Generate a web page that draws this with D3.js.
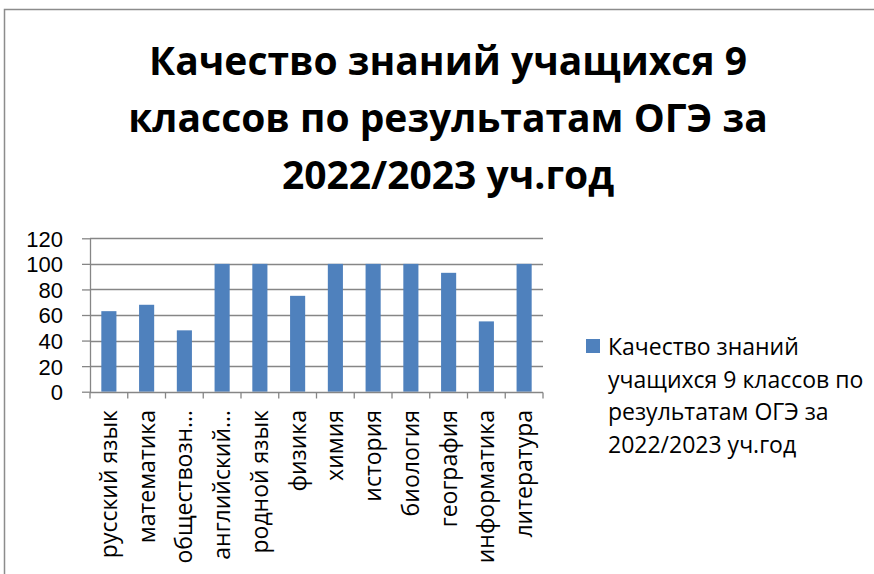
<!DOCTYPE html>
<html>
<head>
<meta charset="utf-8">
<script src="https://cdn.jsdelivr.net/npm/d3@7"></script>
<style>
  html, body { margin: 0; padding: 0; background: #fff; }
  svg { display: block; }
  text { font-family: "Open Sans", "Noto Sans", "DejaVu Sans", sans-serif; fill: #000; }
</style>
</head>
<body>
<svg id="chart" width="874" height="574"></svg>
<script>
// ---- data ----
const categories = ["русский язык", "математика", "обществозн…", "английский…", "родной язык",
                    "физика", "химия", "история", "биология", "география", "информатика", "литература"];
const values = [63, 68, 48, 100, 100, 75, 100, 100, 100, 93, 55, 100];
const yTicks = [0, 20, 40, 60, 80, 100, 120];
const titleLines = ["Качество знаний учащихся 9", "классов по результатам ОГЭ за", "2022/2023 уч.год"];
const seriesName = "Качество знаний учащихся 9 классов по результатам ОГЭ за 2022/2023 уч.год";
const legendLines = ["Качество знаний", "учащихся 9 классов по", "результатам ОГЭ за", "2022/2023 уч.год"];

// ---- layout ----
const W = 874, H = 574;
const plot = { left: 90, right: 543, top: 238.3, bottom: 391.7 };
const barColor = "#4F81BD";
const gridColor = "#868686";

const svg = d3.select("#chart");

// chart border (extends past right/bottom edges as in the reference)
svg.append("rect")
  .attr("x", 4.5).attr("y", 9.5)
  .attr("width", W + 20).attr("height", H + 20)
  .attr("fill", "none").attr("stroke", "#8c8c8c").attr("stroke-width", 1.5);

// title
svg.append("g").selectAll("text").data(titleLines).join("text")
  .attr("x", 448)
  .attr("y", (d, i) => 75 + i * 57)
  .attr("text-anchor", "middle")
  .attr("font-weight", "bold")
  .attr("font-size", 39)
  .text(d => d);

const x = d3.scaleBand().domain(categories).range([plot.left, plot.right]).paddingInner(0).paddingOuter(0);
const y = d3.scaleLinear().domain([0, 120]).range([plot.bottom, plot.top]);

// gridlines
svg.append("g").selectAll("line").data(yTicks.filter(t => t > 0)).join("line")
  .attr("x1", plot.left).attr("x2", plot.right)
  .attr("y1", d => Math.round(y(d)) + 0.5).attr("y2", d => Math.round(y(d)) + 0.5)
  .attr("stroke", gridColor).attr("stroke-width", 1.3);

// y axis
const yAxis = d3.axisLeft(y).tickValues(yTicks).tickSize(8).tickPadding(19).tickSizeOuter(0);
const gy = svg.append("g").attr("transform", `translate(${plot.left},0)`).call(yAxis);
gy.select(".domain").attr("stroke", gridColor).attr("stroke-width", 1.3);
gy.selectAll(".tick line").attr("stroke", gridColor).attr("stroke-width", 1.3);
gy.selectAll(".tick text").attr("font-size", 22).attr("fill", "#000")
  .style("font-family", "'Liberation Sans', Arial, sans-serif").attr("dy", "0.36em");

// bars
const barW = x.bandwidth() / 2.5;
svg.append("g").selectAll("rect").data(values).join("rect")
  .attr("x", (d, i) => x(categories[i]) + (x.bandwidth() - barW) / 2)
  .attr("y", d => y(d))
  .attr("width", barW)
  .attr("height", d => y(0) - y(d))
  .attr("fill", barColor);

// x axis
const gx = svg.append("g").attr("transform", `translate(0,${Math.round(plot.bottom) + 0.5})`);
gx.append("line").attr("x1", plot.left).attr("x2", plot.right)
  .attr("stroke", gridColor).attr("stroke-width", 1.3);
const bounds = categories.map(c => x(c)).concat([plot.right]);
gx.selectAll("line.tk").data(bounds).join("line").attr("class", "tk")
  .attr("x1", d => d).attr("x2", d => d).attr("y1", 0).attr("y2", 6)
  .attr("stroke", gridColor).attr("stroke-width", 1.3);

// x labels (rotated)
svg.append("g").selectAll("text").data(categories).join("text")
  .attr("transform", d => `translate(${x(d) + x.bandwidth() / 2},410) rotate(-90)`)
  .attr("text-anchor", "end")
  .attr("dy", "0.35em")
  .attr("font-size", 23)
  .text(d => d);

// legend
const lg = svg.append("g");
lg.append("rect").attr("x", 586).attr("y", 339).attr("width", 14).attr("height", 14).attr("fill", barColor);
lg.selectAll("text").data(legendLines).join("text")
  .attr("x", 608)
  .attr("y", (d, i) => 355 + i * 32.7)
  .attr("font-size", 23)
  .text(d => d);
</script>
</body>
</html>
